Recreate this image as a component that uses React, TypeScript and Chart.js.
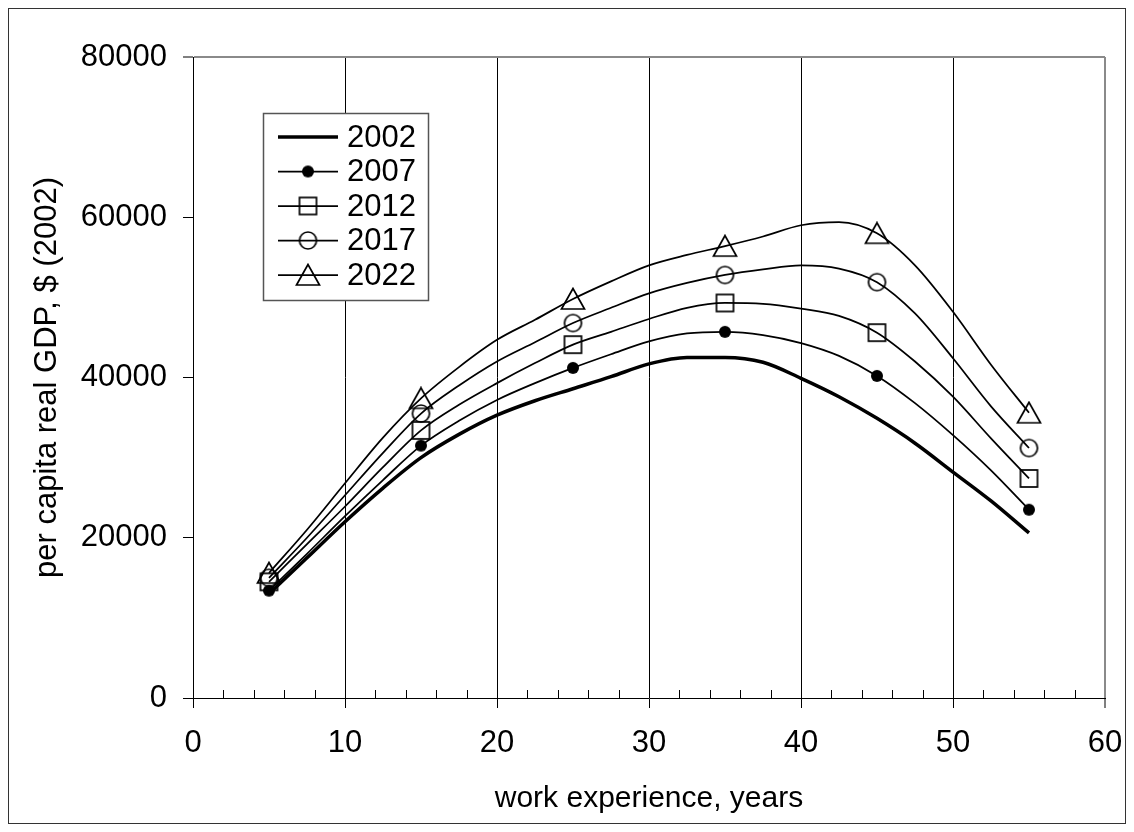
import React, { useEffect, useRef } from 'react';
import { Chart, registerables } from 'chart.js';

Chart.register(...registerables);

// ---------- data ----------
const experienceYears = [5, 7.5, 10, 12.5, 15, 17.5, 20, 22.5, 25, 27.5, 30, 32.5, 35, 37.5, 40, 42.5, 45, 47.5, 50, 52.5, 55];

const series2002 = [13000, 17500, 22000, 26200, 30000, 32900, 35300, 37100, 38600, 40100, 41700, 42500, 42500, 41900, 39900, 37600, 34900, 31800, 28200, 24600, 20600];
const series2007 = [13400, 18000, 22700, 27200, 31500, 34600, 37200, 39300, 41200, 42900, 44500, 45500, 45700, 45300, 44300, 42700, 40200, 36800, 32800, 28400, 23500];
const series2012 = [14500, 19200, 23900, 28800, 33400, 36600, 39300, 41800, 44100, 45700, 47300, 48700, 49300, 49200, 48600, 47700, 45600, 42000, 37600, 32400, 27400];
const series2017 = [15000, 20000, 25300, 30600, 35500, 39000, 42000, 44400, 46800, 48700, 50500, 51800, 52800, 53500, 54000, 53600, 51900, 48000, 42400, 36400, 31200];
const series2022 = [15600, 21000, 26800, 32500, 37400, 41300, 44700, 47200, 49800, 52000, 54000, 55300, 56400, 57600, 59000, 59400, 58000, 54000, 48200, 41600, 35600];

const seriesLabels = ['2002', '2007', '2012', '2017', '2022'];
const markerYears = [5, 15, 25, 35, 45, 55];
const xTickLabels = ['0', '10', '20', '30', '40', '50', '60'];
const yTickLabels = ['0', '20000', '40000', '60000', '80000'];
const xTitle = 'work experience, years';
const yTitle = 'per capita real GDP, $ (2002)';

const FONT = "'Liberation Sans', Arial, Helvetica, sans-serif";

// ---------- marker images ----------
function makeMarker(kind: string): HTMLCanvasElement | null {
  if (kind === 'none') return null;
  const c = document.createElement('canvas');
  const ctx = c.getContext('2d') as CanvasRenderingContext2D;
  if (kind === 'dot') {
    c.width = 14; c.height = 14;
    ctx.fillStyle = '#000';
    ctx.beginPath(); ctx.arc(7, 7, 6, 0, Math.PI * 2); ctx.fill();
  } else if (kind === 'square') {
    c.width = 21; c.height = 21;
    ctx.strokeStyle = '#000'; ctx.lineWidth = 1.7;
    ctx.strokeRect(2, 2, 17, 17);
  } else if (kind === 'circle') {
    c.width = 21; c.height = 21;
    ctx.strokeStyle = '#000'; ctx.lineWidth = 1.7;
    ctx.beginPath(); ctx.arc(10.5, 10.5, 8.5, 0, Math.PI * 2); ctx.stroke();
  } else if (kind === 'triangle') {
    c.width = 26; c.height = 24;
    ctx.strokeStyle = '#000'; ctx.lineWidth = 1.7;
    ctx.beginPath();
    ctx.moveTo(13, 1.5); ctx.lineTo(1.5, 22); ctx.lineTo(24.5, 22); ctx.closePath();
    ctx.stroke();
  }
  return c;
}

export default function App() {
  const ref = useRef<HTMLCanvasElement | null>(null);

  useEffect(() => {
    if (!ref.current) return;
    const seriesValues = [series2002, series2007, series2012, series2017, series2022];
    const markerKinds = ['none', 'dot', 'square', 'circle', 'triangle'];
    const widths = [3.5, 1.75, 1.75, 1.75, 1.75];
    const markers = markerKinds.map(makeMarker);

    const datasets = seriesValues.map((vals, si) => ({
      label: seriesLabels[si],
      data: experienceYears.map((x, i) => ({ x, y: vals[i] })),
      borderColor: '#000',
      backgroundColor: 'rgba(0,0,0,0)',
      borderWidth: widths[si],
      borderJoinStyle: 'round' as const,
      cubicInterpolationMode: 'monotone' as const,
      pointStyle: (markers[si] || 'circle') as any,
      pointRadius: (ctx: any) => {
        if (!markers[si]) return 0;
        const raw = ctx.raw as { x: number };
        return raw && markerYears.includes(raw.x) ? 6 : 0;
      },
      pointHoverRadius: 0,
      fill: false,
    }));

    const decorPlugin = {
      id: 'decor',
      afterDraw(chart: any) {
        const ctx: CanvasRenderingContext2D = chart.ctx;
        const xs = chart.scales.x;
        const bottom = chart.chartArea.bottom;
        ctx.save();
        // minor ticks on x axis (inside)
        ctx.strokeStyle = '#000';
        ctx.lineWidth = 1;
        for (let v = 0; v <= 60; v += 2) {
          if (v % 10 === 0) continue;
          const px = Math.round(xs.getPixelForValue(v)) + 0.5;
          ctx.beginPath();
          ctx.moveTo(px, bottom);
          ctx.lineTo(px, bottom - 8);
          ctx.stroke();
        }
        // legend
        const bx = 254.5, by = 104.5, bw = 165, bh = 187;
        ctx.fillStyle = '#fff';
        ctx.fillRect(bx, by, bw, bh);
        ctx.strokeStyle = '#555';
        ctx.lineWidth = 1.5;
        ctx.strokeRect(bx, by, bw, bh);
        ctx.font = `31px ${FONT}`;
        ctx.textBaseline = 'middle';
        ctx.textAlign = 'left';
        chart.data.datasets.forEach((ds: any, i: number) => {
          const y = 128 + i * 34.5;
          ctx.strokeStyle = '#000';
          ctx.lineWidth = ds.borderWidth;
          ctx.beginPath();
          ctx.moveTo(269, y);
          ctx.lineTo(329, y);
          ctx.stroke();
          const m = markers[i];
          if (m) ctx.drawImage(m, 299 - m.width / 2, y - m.height / 2);
          ctx.fillStyle = '#000';
          ctx.fillText(ds.label, 338, y + 1);
        });
        ctx.restore();
      },
    };

    const chart = new Chart(ref.current, {
      type: 'line',
      data: { datasets },
      plugins: [decorPlugin],
      options: {
        animation: false,
        responsive: false,
        maintainAspectRatio: false,
        layout: { padding: { left: 0, top: 48, right: 20, bottom: 0 } },
        plugins: { legend: { display: false }, tooltip: { enabled: false } },
        scales: {
          x: {
            type: 'linear',
            min: 0,
            max: 60,
            afterFit: (s: any) => { s.height = 125; s.paddingLeft = 0; s.paddingRight = 0; },
            ticks: {
              stepSize: 10,
              color: '#000',
              padding: 17,
              font: { family: FONT, size: 31 },
              maxRotation: 0,
              callback: (_v: any, i: number) => xTickLabels[i],
            },
            grid: {
              color: (c: any) => (c.tick && c.tick.value === 60 ? '#8a8a8a' : '#000'),
              lineWidth: (c: any) => (c.tick && c.tick.value === 60 ? 2 : 1),
              tickColor: '#000',
              tickWidth: 1,
              tickLength: 10,
              drawTicks: true,
            },
            border: { display: true, color: '#000', width: 1 },
            title: {
              display: true,
              text: xTitle,
              color: '#000',
              font: { family: FONT, size: 30 },
              padding: { top: 0, bottom: 6 },
            },
          },
          y: {
            type: 'linear',
            min: 0,
            max: 80000,
            afterFit: (s: any) => { s.width = 184; s.paddingTop = 0; s.paddingBottom = 0; },
            ticks: {
              stepSize: 20000,
              color: '#000',
              padding: 16,
              font: { family: FONT, size: 31 },
              callback: (_v: any, i: number) => yTickLabels[i],
            },
            grid: {
              color: (c: any) => (c.tick && c.tick.value === 80000 ? '#8a8a8a' : 'rgba(0,0,0,0)'),
              lineWidth: (c: any) => (c.tick && c.tick.value === 80000 ? 2 : 1),
              tickColor: '#000',
              tickWidth: 1,
              tickLength: 10,
              drawTicks: true,
            },
            border: { display: true, color: '#000', width: 1 },
            title: {
              display: true,
              text: yTitle,
              color: '#000',
              font: { family: FONT, size: 31 },
              padding: { top: 20, bottom: 0 },
            },
          },
        },
      },
    });
    return () => chart.destroy();
  }, []);

  return (
    <div
      style={{
        width: 1118,
        height: 816,
        border: '1px solid #333',
        boxSizing: 'border-box',
        background: '#fff',
      }}
    >
      <canvas ref={ref} width={1116} height={814} style={{ display: 'block', width: 1116, height: 814 }} />
    </div>
  );
}
